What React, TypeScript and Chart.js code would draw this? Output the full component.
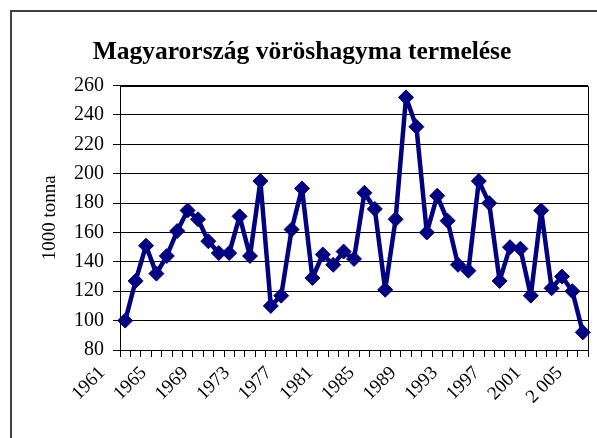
import React, { useEffect, useRef } from "react";
import { Chart, registerables } from "chart.js";

Chart.register(...registerables);

const years: string[] = [
  "1961","1962","1963","1964","1965","1966","1967","1968","1969","1970",
  "1971","1972","1973","1974","1975","1976","1977","1978","1979","1980",
  "1981","1982","1983","1984","1985","1986","1987","1988","1989","1990",
  "1991","1992","1993","1994","1995","1996","1997","1998","1999","2000",
  "2001","2002","2003","2004","2 005",
];

const production: number[] = [
  100, 127, 151, 132, 144, 161, 175, 169, 154, 146,
  146, 171, 144, 195, 110, 117, 162, 190, 129, 145,
  138, 147, 142, 187, 176, 121, 169, 252, 232, 160,
  185, 168, 138, 134, 195, 180, 127, 150, 149, 117,
  175, 122, 130, 120, 92,
];

const title = "Magyarország vöröshagyma termelése";
const yTitle = "1000 tonna";
const yMin = 80;
const yMax = 260;
const yStep = 20;

const SERIF = "'Liberation Serif', 'Times New Roman', serif";

const plotBorder = {
  id: "plotBorder",
  beforeDatasetsDraw(chart: any) {
    const { ctx, chartArea } = chart;
    ctx.save();
    ctx.strokeStyle = "#000";
    ctx.lineWidth = 1;
    ctx.beginPath();
    ctx.moveTo(Math.round(chartArea.left) + 0.5, Math.round(chartArea.top) + 0.5);
    ctx.lineTo(Math.round(chartArea.right) + 0.5, Math.round(chartArea.top) + 0.5);
    ctx.lineTo(Math.round(chartArea.right) + 0.5, Math.round(chartArea.bottom) + 0.5);
    ctx.stroke();
    ctx.restore();
  },
};

export default function App() {
  const ref = useRef<HTMLCanvasElement | null>(null);

  useEffect(() => {
    if (!ref.current) return;
    const chart = new Chart(ref.current, {
      type: "line",
      data: {
        labels: years,
        datasets: [
          {
            data: production,
            borderColor: "#000080",
            backgroundColor: "#000080",
            borderWidth: 4.5,
            borderJoinStyle: "round",
            pointStyle: "rectRot",
            pointRadius: 7.5,
            pointBackgroundColor: "#000080",
            pointBorderColor: "#000080",
            pointBorderWidth: 1,
            tension: 0,
          },
        ],
      },
      options: {
        responsive: false,
        animation: false,
        layout: { padding: { left: 16, right: 9, top: 0, bottom: 0 } },
        plugins: {
          legend: { display: false },
          tooltip: { enabled: false },
          title: {
            display: true,
            text: title,
            color: "#000",
            font: { family: SERIF, size: 25.5, weight: "bold" },
            padding: { top: 37, bottom: 18 },
          },
        },
        scales: {
          x: {
            type: "category",
            offset: true,
            afterFit: (s: any) => {
              s.height = 88;
              s.paddingRight = 0;
              s.paddingLeft = 0;
            },
            grid: {
              offset: true,
              drawOnChartArea: false,
              drawTicks: true,
              tickLength: 7,
              color: "#000",
            },
            border: { color: "#000", width: 1 },
            ticks: {
              autoSkip: false,
              maxRotation: 45,
              minRotation: 45,
              padding: 5,
              labelOffset: -23,
              color: "#000",
              font: { family: SERIF, size: 19 },
              callback: (_v: any, i: number) => (i % 4 === 0 ? years[i] : ""),
            },
          },
          y: {
            min: yMin,
            max: yMax,
            afterFit: (s: any) => {
              s.width = 104;
            },
            ticks: {
              stepSize: yStep,
              color: "#000",
              padding: 9,
              font: { family: SERIF, size: 20 },
            },
            grid: {
              color: "#000",
              lineWidth: 1,
              tickLength: 7,
            },
            border: { color: "#000", width: 1 },
            title: {
              display: true,
              text: yTitle,
              color: "#000",
              font: { family: SERIF, size: 19 },
              padding: { top: 23, bottom: 0 },
            },
          },
        },
      },
      plugins: [plotBorder],
    });
    return () => chart.destroy();
  }, []);

  return (
    <div
      style={{
        position: "fixed",
        left: 0,
        top: 0,
        width: 597,
        height: 438,
        overflow: "hidden",
        background: "#fff",
      }}
    >
      <canvas ref={ref} width={597} height={438} style={{ display: "block" }} />
      <div
        style={{
          position: "absolute",
          left: 10,
          top: 10,
          width: 700,
          height: 600,
          border: "2px solid #404040",
          pointerEvents: "none",
        }}
      />
    </div>
  );
}
